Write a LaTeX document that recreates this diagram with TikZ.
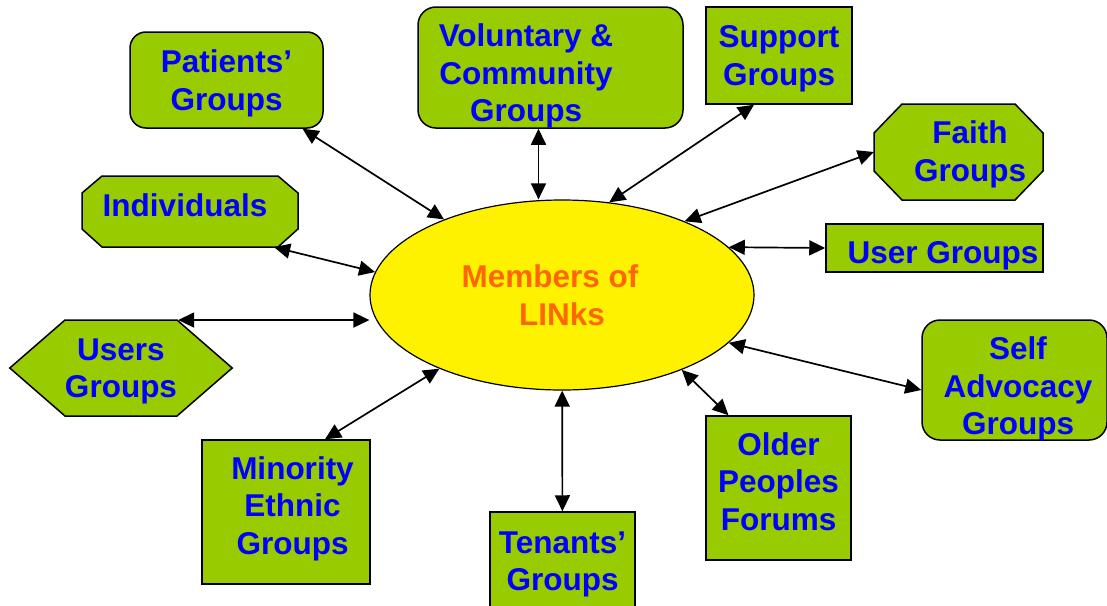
\documentclass[tikz,border=0pt]{standalone}
\usepackage{fontspec}
\setmainfont{Liberation Sans}
\usepackage{tikz}
\usetikzlibrary{arrows.meta}
\usetikzlibrary{shapes.geometric}
\usetikzlibrary{shapes.symbols}
\tikzset{box/.style = {draw, line width=1.5pt, fill=lgreen, inner sep=0pt}}
\tikzset{grouptext/.style = {text=gblue, font=\fontsize{31.5}{37.5}\selectfont\bfseries,
                             align=center, inner sep=0pt, text depth=0pt}}
\tikzset{group/.style = {box, grouptext}}
\tikzset{octagon/.style = {draw, line width=1.5pt, fill=lgreen}}
\tikzset{link/.style = {<->, >={Triangle[length=16pt, width=15pt]}, line width=1.7pt}}
\definecolor{lgreen}{rgb}{0.6, 0.8, 0}
\definecolor{gblue}{rgb}{0, 0, 1}
\definecolor{lorange}{rgb}{1, 0.4, 0}

\begin{document}
\begin{tikzpicture}[x=1pt, y=-1pt]
    \useasboundingbox (0, 0) rectangle (1107, 605);

    \node [ellipse, draw, line width=1.2pt, fill=yellow, minimum width=384pt, minimum height=190pt,
           inner sep=0pt, text=lorange, font=\fontsize{31.5}{37.5}\selectfont\bfseries, align=center]
          (members) at (562, 295) {Members of\hspace*{24pt}\\LINks};

    % octagons
    \filldraw [octagon] (102, 176) -- (278, 176) -- (298, 193) -- (298, 229) -- (278, 247) -- (102, 247) -- (82, 229) -- (82, 193) -- cycle;
    \filldraw [octagon] (902, 104) -- (1015, 104) -- (1043, 133) -- (1043, 171) -- (1015, 200) -- (902, 200) -- (874, 171) -- (874, 133) -- cycle;

    \node [group, rounded corners=16pt, minimum width=193pt, minimum height=96pt] (patients) at (226.5, 80) {Patients'\\Groups};
    \node [box, rounded corners=18pt, minimum width=265pt, minimum height=121pt,
           label={[grouptext, xshift=-24.5pt, yshift=-5.5pt]center:{Voluntary \&\\Community\\Groups}}] (voluntary) at (550.5, 67.5) {};
    \node [group, minimum width=146pt, minimum height=97pt] (support) at (779, 55.5) {Support\\Groups};
    \node [inner sep=0pt, minimum width=169pt, minimum height=96pt,
           label={[grouptext, xshift=11.5pt, yshift=1pt]center:{Faith\\Groups}}] (faith) at (958.5, 152) {};
    \node [group, minimum width=217pt, minimum height=48pt, text height=31pt] (user) at (934.5, 248) {\hspace*{17pt}User Groups};
    \node [grouptext, minimum width=216pt, minimum height=71pt, text depth=13pt] (individuals) at (190, 211.5) {Individuals\hspace*{10pt}};
    \node [group, signal, signal to=east and west, signal pointer angle=82,
           minimum width=222pt, minimum height=96pt] (users) at (121, 368) {Users\\Groups};
    \node [box, rounded corners=18pt, minimum width=185pt, minimum height=120pt,
           label={[grouptext, xshift=3.5pt, yshift=-6pt]center:{Self\\Advocacy\\Groups}}] (self) at (1014.5, 380) {};
    \node [group, minimum width=145pt, minimum height=144pt, text depth=13pt] (older) at (778.5, 488) {Older\\Peoples\\Forums};
    \node [group, minimum width=145pt, minimum height=98pt] (tenants) at (562.5, 561) {Tenants'\\Groups};
    \node [box, minimum width=168pt, minimum height=144pt,
           label={[grouptext, xshift=6.5pt, yshift=6.5pt]center:{Minority\\Ethnic\\Groups}}] (minority) at (286, 512) {};

    \draw [link] (patients) -- (members);
    \draw [link] ([xshift=-12pt]voluntary.south) -- ([xshift=-12pt]voluntary.south |- members.north);
    \draw [link] ([xshift=-25pt]support.south) -- (members.63);
    \draw [link] (faith.west) -- (members.31);
    \draw [link] (user.west) -- (members.16);
    \draw [link] (individuals.-23) -- (members.173);
    \draw [link] (users.40) -- (users.40 -| members.west);
    \draw [link] ([yshift=-10pt]self.west) -- (members.-16);
    \draw [link] ([xshift=-50pt]older.north) -- (members.-32);
    \draw [link] (tenants) -- (members);
    \draw [link] ([xshift=39pt]minority.north) -- (members.211);
\end{tikzpicture}
\end{document}
